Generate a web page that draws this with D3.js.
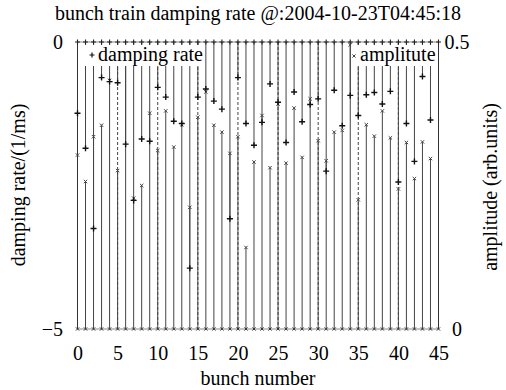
<!DOCTYPE html>
<html>
<head>
<meta charset="utf-8">
<script src="https://cdn.jsdelivr.net/npm/d3@7"></script>
<style>
  body { margin: 0; background: #fff; }
  svg { display: block; }
  text { font-family: "Liberation Serif", "Times New Roman", "DejaVu Serif", serif; fill: #000; }
</style>
</head>
<body>
<div id="chart"></div>
<script>
var bunches = d3.range(0, 45);
var allBunches = d3.range(0, 46);
var damping = [-1.24, -1.85, -3.25, -0.62, -0.69, -0.71, -1.78, -2.76, -1.69, -1.73,
               -0.79, -0.96, -1.38, -1.42, -3.94, -0.96, -0.82, -1.03, -1.17, -3.08,
               -0.62, -1.42, -1.80, -1.40, -0.73, -1.05, -1.75, -0.87, -1.39, -1.09,
               -0.99, -2.25, -0.84, -1.46, -0.93, -1.28, -0.92, -0.88, -1.08, -0.86,
               -2.44, -1.42, -2.08, -0.60, -1.36];
var amplitude = [0.303, 0.257, 0.335, 0.355, 0.433, 0.276, 0.490, 0.228, 0.250, 0.376,
                 0.311, 0.380, 0.317, 0.356, 0.212, 0.369, 0.413, 0.355, 0.343, 0.306,
                 0.335, 0.142, 0.291, 0.372, 0.281, 0.392, 0.289, 0.385, 0.299, 0.401,
                 0.328, 0.293, 0.343, 0.346, 0.495, 0.225, 0.356, 0.336, 0.380, 0.333,
                 0.244, 0.325, 0.262, 0.326, 0.297];
var xTicks = [0, 5, 10, 15, 20, 25, 30, 35, 40, 45];
var leftTicks = [-5, 0];
var rightTicks = [0, 0.5];

var width = 506, height = 390;
var plotLeft = 77.5, plotRight = 438.5, plotTop = 42, plotBottom = 329;
var serif = '"Liberation Serif", "Times New Roman", "DejaVu Serif", serif';

var svg = d3.select("#chart").append("svg")
    .attr("width", width)
    .attr("height", height);

svg.append("rect").attr("width", width).attr("height", height).attr("fill", "#fff");

var x = d3.scaleLinear().domain([0, 45]).range([plotLeft, plotRight]);
var yL = d3.scaleLinear().domain([-5, 0]).range([plotBottom, plotTop]);
var yR = d3.scaleLinear().domain([0, 0.5]).range([plotBottom, plotTop]);

// dashed grid at the x tics
svg.append("g").selectAll("line")
    .data(xTicks)
    .enter().append("line")
    .attr("x1", function(d) { return x(d); })
    .attr("x2", function(d) { return x(d); })
    .attr("y1", plotTop).attr("y2", plotBottom)
    .style("stroke", "#444")
    .style("stroke-dasharray", "3,2");

// impulses: damping hangs from 0 at the top, amplitude rises from 0 at the bottom
svg.append("g").selectAll("line")
    .data(bunches)
    .enter().append("line")
    .attr("x1", function(d) { return x(d); })
    .attr("x2", function(d) { return x(d); })
    .attr("y1", yL(0))
    .attr("y2", function(d) { return yL(damping[d]); })
    .style("stroke", "#444");

svg.append("g").selectAll("line")
    .data(bunches)
    .enter().append("line")
    .attr("x1", function(d) { return x(d); })
    .attr("x2", function(d) { return x(d); })
    .attr("y1", yR(0))
    .attr("y2", function(d) { return yR(amplitude[d]); })
    .style("stroke", "#444");

// border
svg.append("line").attr("x1", plotLeft).attr("x2", plotRight).attr("y1", plotTop).attr("y2", plotTop)
    .style("stroke", "#888");
svg.append("line").attr("x1", plotLeft).attr("x2", plotRight).attr("y1", plotBottom).attr("y2", plotBottom)
    .style("stroke", "#888");
svg.append("line").attr("x1", plotLeft).attr("x2", plotLeft).attr("y1", plotTop).attr("y2", plotBottom)
    .style("stroke", "#333");
svg.append("line").attr("x1", plotRight).attr("x2", plotRight).attr("y1", plotTop).attr("y2", plotBottom)
    .style("stroke", "#333");

function plus(cx, cy, r) {
    return "M" + (cx - r) + "," + cy + "H" + (cx + r) + "M" + cx + "," + (cy - r) + "V" + (cy + r);
}
function cross(cx, cy, r) {
    return "M" + (cx - r) + "," + (cy - r) + "L" + (cx + r) + "," + (cy + r) +
           "M" + (cx - r) + "," + (cy + r) + "L" + (cx + r) + "," + (cy - r);
}

// base points along the zero lines
svg.append("g").selectAll("path")
    .data(allBunches)
    .enter().append("path")
    .attr("d", function(d) { return plus(x(d), yL(0), 2.5); })
    .style("stroke", "#222").style("stroke-width", 1.1);
svg.append("g").selectAll("path")
    .data(allBunches)
    .enter().append("path")
    .attr("d", function(d) { return cross(x(d), yR(0), 1.6); })
    .style("stroke", "#333");

// value points
svg.append("g").selectAll("path")
    .data(bunches)
    .enter().append("path")
    .attr("d", function(d) { return cross(x(d), yR(amplitude[d]), 1.7); })
    .style("stroke", "#444");
svg.append("g").selectAll("path")
    .data(bunches)
    .enter().append("path")
    .attr("d", function(d) { return plus(x(d), yL(damping[d]), 3); })
    .style("stroke", "#111").style("stroke-width", 1.4);

// keys with opaque backgrounds
var key1 = svg.append("g");
key1.append("rect").attr("x", 82).attr("y", 45).attr("width", 121).attr("height", 21).attr("fill", "#fff");
key1.append("path").attr("d", plus(92, 55, 2.5)).style("stroke", "#111").style("stroke-width", 1.2);
key1.append("text").attr("x", 98).attr("y", 61).style("font-size", "20px").text("damping rate");

var key2 = svg.append("g");
key2.append("rect").attr("x", 351).attr("y", 45).attr("width", 86).attr("height", 21).attr("fill", "#fff");
key2.append("path").attr("d", cross(354, 56, 1.6)).style("stroke", "#444");
key2.append("text").attr("x", 360).attr("y", 61).style("font-size", "20px").text("amplitute");

// axes
var xAxis = svg.append("g")
    .attr("transform", "translate(0," + plotBottom + ")")
    .call(d3.axisBottom(x).tickValues(xTicks).tickSize(0).tickPadding(17));
var yAxisL = svg.append("g")
    .attr("transform", "translate(" + 63 + ",0)")
    .call(d3.axisLeft(yL).tickValues(leftTicks).tickSize(0).tickPadding(0)
        .tickFormat(function(d) { return d < 0 ? "\u2212" + Math.abs(d) : String(d); }));
var yAxisR = svg.append("g")
    .attr("transform", "translate(" + 457 + ",0)")
    .call(d3.axisRight(yR).tickValues(rightTicks).tickSize(0).tickPadding(0)
        .tickFormat(function(d) { return String(d); }));

svg.selectAll(".domain").remove();
svg.selectAll(".tick text")
    .style("font-family", serif)
    .style("font-size", "20px")
    .style("fill", "#000");
yAxisR.selectAll(".tick text").attr("text-anchor", "middle");

// titles
svg.append("text")
    .attr("x", (plotLeft + plotRight) / 2).attr("y", 20)
    .attr("text-anchor", "middle")
    .style("font-size", "20px")
    .text("bunch train damping rate @:2004-10-23T04:45:18");

svg.append("text")
    .attr("x", (plotLeft + plotRight) / 2).attr("y", 385)
    .attr("text-anchor", "middle")
    .style("font-size", "20px")
    .text("bunch number");

svg.append("text")
    .attr("transform", "translate(25," + 185 + ") rotate(-90)")
    .attr("text-anchor", "middle")
    .style("font-size", "20px")
    .text("damping rate/(1/ms)");

svg.append("text")
    .attr("transform", "translate(497," + 187 + ") rotate(-90)")
    .attr("text-anchor", "middle")
    .style("font-size", "20px")
    .text("amplitude (arb.units)");
</script>
</body>
</html>
